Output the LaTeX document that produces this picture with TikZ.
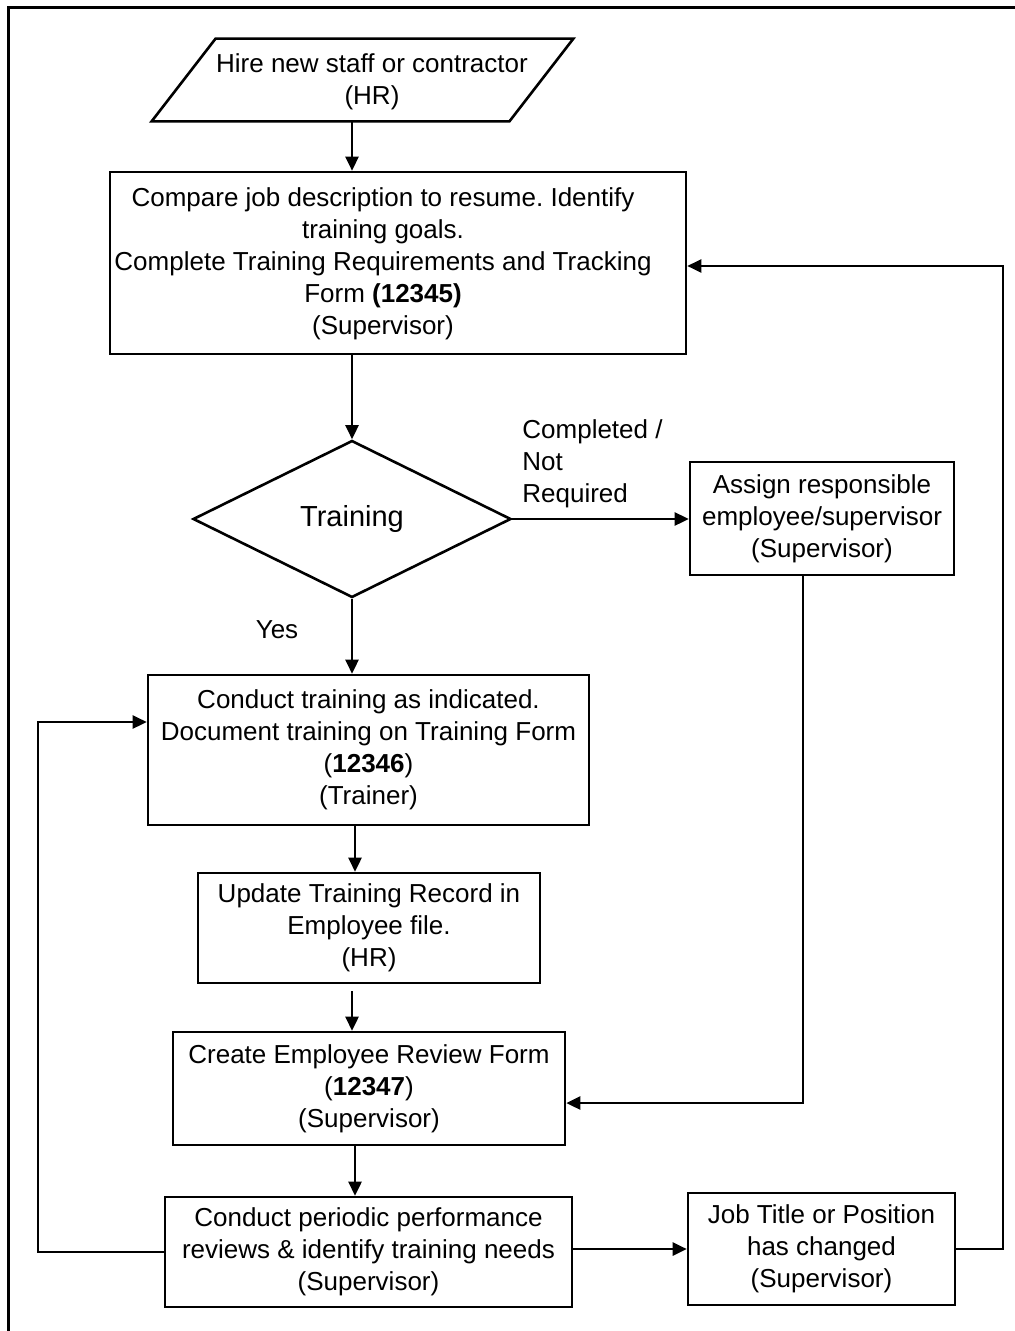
\documentclass[tikz,border=0pt]{standalone}
\usepackage{fontspec}
\setmainfont{Liberation Sans}
\usetikzlibrary{shapes.geometric,arrows.meta}
\frenchspacing
\begin{document}
\begin{tikzpicture}[x=0.5pt,y=-0.5pt,
  box/.style={draw,line width=1.3pt,align=center,inner sep=0pt,font=\fontsize{13}{16}\selectfont},
  arr/.style={line width=1.3pt,-{Triangle[length=7pt,width=6.5pt]}},
  lbl/.style={font=\fontsize{13}{16}\selectfont,inner sep=0pt}]
\useasboundingbox (0,0) rectangle (1015,1331);
\draw[line width=1.5pt] (8,1331) -- (8,8) -- (1015,8);

\node[inner sep=0pt,minimum width=210.5pt,minimum height=41pt] (hire) at (362.5,80) {};
\draw[line width=1.3pt] ([xshift=32pt]hire.north west) -- (hire.north east) -- ([xshift=-32pt]hire.south east) -- (hire.south west) -- cycle;
\node[lbl,align=center] (hiret) at (372,82) {Hire new staff or contractor\\(HR)};

\node[box,minimum width=288pt,minimum height=91pt] (b1) at (398,263) {};
\node[lbl,align=center] (b1t) at (383,264) {Compare job description to resume. Identify\\training goals.\\Complete Training Requirements and Tracking\\Form \textbf{(12345)}\\(Supervisor)};
\node[draw,line width=1.3pt,diamond,inner sep=0pt,minimum width=159pt,minimum height=78.5pt,font=\fontsize{14.5}{17}\selectfont] (d) at (352,519) {Training};
\node[box,minimum width=132pt,minimum height=56.5pt] (b2) at (822,518.5) {Assign responsible\\employee/supervisor\\(Supervisor)};
\node[box,minimum width=220.5pt,minimum height=75pt] (b3) at (368.5,750) {Conduct training as indicated.\\Document training on Training Form\\(\textbf{12346})\\(Trainer)};
\node[box,minimum width=171pt,minimum height=55pt] (b4) at (369,928) {Update Training Record in\\Employee file.\\(HR)};
\node[box,minimum width=196pt,minimum height=56.5pt] (b5) at (369,1088.5) {Create Employee Review Form\\(\textbf{12347})\\(Supervisor)};
\node[box,minimum width=203.5pt,minimum height=55pt] (b6) at (368.5,1252) {Conduct periodic performance\\reviews \& identify training needs\\(Supervisor)};
\node[box,minimum width=133.5pt,minimum height=56pt] (b7) at (821.5,1249) {Job Title or Position\\has changed\\(Supervisor)};

\node[lbl,align=left,anchor=north west] (lc) at (522,419) {Completed /\\Not\\Required};
\node[lbl] (ly) at (277,630) {Yes};

\coordinate (c1) at (803,1103);
\coordinate (c3) at (1003,266);
\coordinate (c4) at (38,722);

\draw[arr] (hire.south -| d.north) -- (b1.north -| d.north);
\draw[arr] (b1.south -| d.north) -- (d.north);
\draw[arr] (d.east) -- (b2.west |- d.east);
\draw[arr] (d.south) -- (b3.north -| d.south);
\draw[arr] ([xshift=1.5pt]b3.south -| d.south) -- ([xshift=1.5pt]b4.north -| d.south);
\draw[arr] ([yshift=-3.5pt]b4.south -| d.south) -- (b5.north -| d.south);
\draw[arr] ([xshift=1.5pt]b5.south -| d.south) -- ([xshift=1.5pt]b6.north -| d.south);
\draw[arr] (b6.east |- b7.west) -- (b7.west);
\draw[arr] (b2.south -| c1) -- (c1) -- (b5.east |- c1);
\draw[arr] (b7.east) -- (b7.east -| c3) -- (c3) -- (b1.east |- c3);
\draw[arr] (b6.west) -- (b6.west -| c4) -- (c4) -- (b3.west |- c4);
\end{tikzpicture}
\end{document}
